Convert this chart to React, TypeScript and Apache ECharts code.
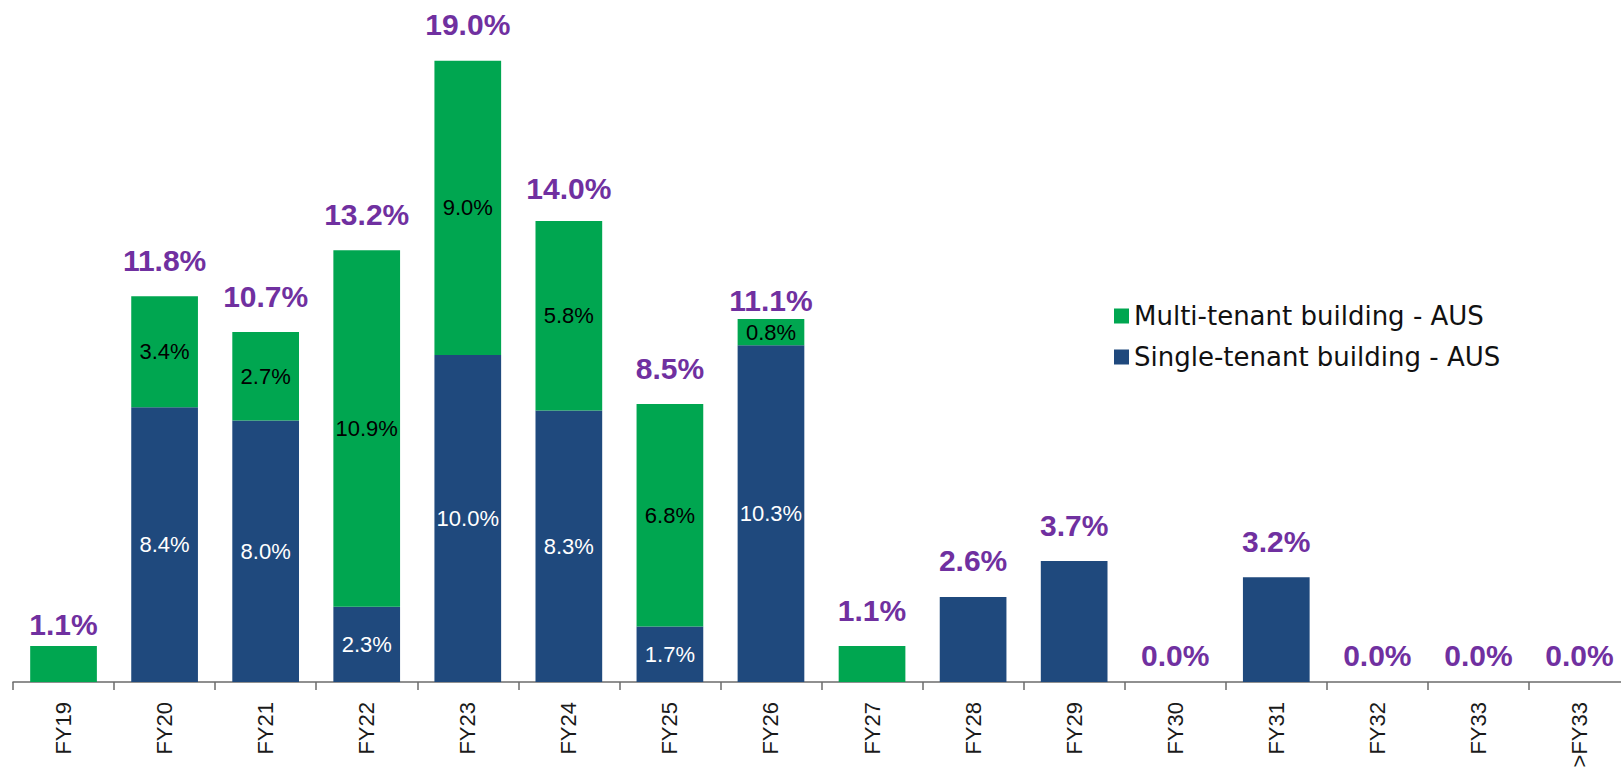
import React, { useEffect, useRef } from "react";
import * as echarts from "echarts";

const categories = ["FY19", "FY20", "FY21", "FY22", "FY23", "FY24", "FY25", "FY26", "FY27", "FY28", "FY29", "FY30", "FY31", "FY32", "FY33", ">FY33"];
const singleTenant = [0, 8.4, 8.0, 2.3, 10.0, 8.3, 1.7, 10.3, 0, 2.6, 3.7, 0, 3.2, 0, 0, 0];
const multiTenant = [1.1, 3.4, 2.7, 10.9, 9.0, 5.8, 6.8, 0.8, 1.1, 0, 0, 0, 0, 0, 0, 0];
const totals = [1.1, 11.8, 10.7, 13.2, 19.0, 14.0, 8.5, 11.1, 1.1, 2.6, 3.7, 0, 3.2, 0, 0, 0];

const MULTI = "Multi-tenant building - AUS";
const SINGLE = "Single-tenant building - AUS";

const GREEN = "#00A650";
const BLUE = "#1F497D";
const PURPLE = "#7030A0";
const FONT = "Liberation Sans";

// label lift (style) for special cases
const liftFor = (cat: string, v: number) => {
  if (v === 0) return 12;
  if (cat === "FY19") return 7;
  if (cat === "FY26") return 4;
  return 21;
};

const pct = (v: number) => `${v.toFixed(1)}%`;

export default function App() {
  const ref = useRef<HTMLDivElement>(null);
  useEffect(() => {
    if (!ref.current) return;
    const chart = echarts.init(ref.current, undefined, { renderer: "svg" });
    const both = (i: number) => singleTenant[i] > 0 && multiTenant[i] > 0;
    chart.setOption({
      animation: false,
      grid: { left: 13, right: -9, top: 28, bottom: 90, containLabel: false, outerBoundsMode: "none" },
      legend: {
        data: [MULTI, SINGLE],
        orient: "vertical",
        left: 1109,
        top: 298,
        itemWidth: 15,
        itemHeight: 15,
        itemGap: 15,
        icon: "rect",
        selectedMode: false,
        textStyle: { fontFamily: "DejaVu Sans", fontSize: 26, color: "#111", padding: [0, 0, 0, 0] },
      },
      xAxis: {
        type: "category",
        data: categories,
        axisLine: { lineStyle: { color: "#6b6b6b", width: 1.5 } },
        axisTick: { show: true, length: 8, lineStyle: { color: "#6b6b6b", width: 1.5 } },
        axisLabel: { interval: 0, rotate: 90, margin: 20, fontFamily: FONT, fontSize: 22, color: "#1a1a1a" },
      },
      yAxis: { type: "value", min: 0, max: 20, show: false, splitLine: { show: false } },
      series: [
        {
          name: SINGLE,
          type: "bar",
          stack: "total",
          barCategoryGap: "34%",
          itemStyle: { color: BLUE },
          data: singleTenant.map((v, i) => ({
            value: v,
            label: { show: both(i) },
          })),
          label: {
            position: "inside",
            color: "#ffffff",
            fontFamily: FONT,
            fontSize: 22,
            formatter: (p: any) => pct(p.value),
          },
        },
        {
          name: MULTI,
          type: "bar",
          stack: "total",
          barCategoryGap: "34%",
          itemStyle: { color: GREEN },
          data: multiTenant.map((v, i) => ({
            value: v,
            label: { show: both(i) },
          })),
          label: {
            position: "inside",
            color: "#000000",
            fontFamily: FONT,
            fontSize: 22,
            formatter: (p: any) => pct(p.value),
          },
        },
        {
          name: "Total",
          type: "bar",
          barGap: "-100%",
          barCategoryGap: "34%",
          itemStyle: { color: "rgba(0,0,0,0)" },
          silent: true,
          z: 1,
          data: totals.map((v, i) => ({
            value: v,
            label: { distance: liftFor(categories[i], v) },
          })),
          label: {
            show: true,
            position: "top",
            color: PURPLE,
            fontFamily: FONT,
            fontWeight: "bold",
            fontSize: 30,
            formatter: (p: any) => pct(p.value),
          },
        },
      ],
    });
    return () => chart.dispose();
  }, []);
  return <div ref={ref} style={{ position: "absolute", left: 0, top: 0, width: 1621, height: 772 }} />;
}
